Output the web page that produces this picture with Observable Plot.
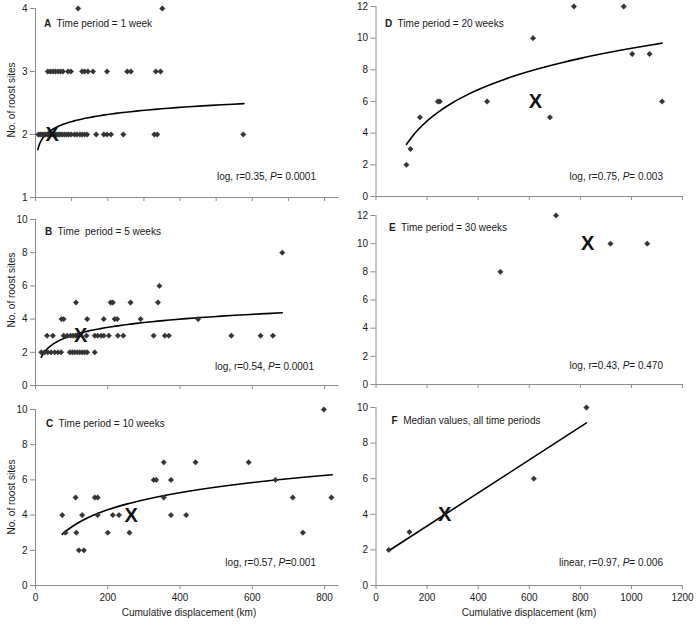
<!DOCTYPE html>
<html><head><meta charset="utf-8">
<script src="https://cdn.jsdelivr.net/npm/d3@7"></script>
<script src="https://cdn.jsdelivr.net/npm/@observablehq/plot@0.6"></script>
<style>
body{margin:0;background:#fff;}
#chart{position:relative;width:697px;height:626px;font-family:"Liberation Sans",Arial,sans-serif;font-size:10px;color:#1a1a1a;overflow:hidden;background:#fff}
#chart svg{position:absolute;overflow:visible}
.abs{position:absolute;white-space:pre;line-height:12px;}
</style></head><body><div id="chart"></div>
<script>
// ---- data: [cumulative displacement (km), number of roost sites] ----
const week1 = [
  [8,2],[13,2],[18,2],[23,2],[28,2],[33,2],[38,2],[43,2],[48,2],[53,2],[58,2],[63,2],[68,2],[74,2],[80,2],[86,2],
  [92,2],[99,2],[108,2],[115,2],[123,2],[129,2],[136,2],[143,2],[168,2],[189,2],[198,2],[209,2],[243,2],[329,2],[337,2],[575,2],
  [34,3],[41,3],[48,3],[55,3],[62,3],[69,3],[76,3],[90,3],[98,3],[129,3],[136,3],[145,3],[159,3],[198,3],[254,3],[264,3],[333,3],[346,3],
  [118,4],[351,4]
];
const week5 = [
  [16,2],[25,2],[34,2],[43,2],[53,2],[62,2],[71,2],[95,2],[102,2],[108,2],[115,2],[122,2],[129,2],[136,2],[143,2],[164,2],
  [32,3],[48,3],[78,3],[88,3],[97,3],[104,3],[111,3],[117,3],[141,3],[164,3],[172,3],[182,3],[189,3],[203,3],[228,3],[243,3],[327,3],[358,3],[369,3],[542,3],[623,3],[657,3],
  [72,4],[78,4],[143,4],[189,4],[219,4],[226,4],[291,4],[450,4],
  [112,5],[208,5],[214,5],[263,5],[339,5],
  [343,6],[683,8]
];
const week10 = [
  [74,4],[83,3],[111,5],[113,3],[120,2],[134,2],[129,4],[164,5],[172,5],[172,4],[200,3],[214,4],[231,4],[260,3],
  [327,6],[334,6],[355,7],[355,5],[375,6],[375,4],[417,4],[443,7],[590,7],[664,6],[712,5],[740,3],[798,10],[819,5]
];
const week20 = [
  [119,2],[135,3],[172,5],[242,6],[250,6],[435,6],[615,10],[681,5],[775,12],[970,12],[1003,9],[1071,9],[1120,6]
];
const week30 = [[487,8],[705,12],[918,10],[1062,10]];
const medians = [[50,2],[131,3],[269,4],[618,6],[824,10]];
// "X" marker per panel (A..F)
const xMarks = [[46,2],[125,3],[265,4],[624,6],[829,10],[269,4]];
// log trend lines y = a + b*ln(x), over [from, to]  (A..D)
const logFits = [
  {a:1.454, b:0.163, from:6.5, to:577},
  {a:-0.28, b:0.714, from:16, to:683},
  {a:-3.16, b:1.408, from:74, to:821},
  {a:-10.36, b:2.855, from:119, to:1120}
];
const titles = [
  ["A","  Time period = 1 week"],["B","  Time  period = 5 weeks"],["C","  Time period = 10 weeks"],
  ["D","  Time period = 20 weeks"],["E","  Time period = 30 weeks"],["F","  Median values, all time periods"]
];
const stats = [
  ["log, r=0.35, ","= 0.0001"],["log, r=0.54, ","= 0.0001"],["log, r=0.57, ","=0.001"],
  ["log, r=0.75, ","= 0.003"],["log, r=0.43, ","= 0.470"],["linear, r=0.97, ","= 0.006"]
];
const yLabel = "No. of roost sites";
const xLabel = "Cumulative displacement (km)";

const chart = document.getElementById("chart");
const FONT = '"Liberation Sans", Arial, sans-serif';
const AX = "#8c8c8c", TXT = "#1a1a1a";

function panel(o) {
  const marks = [
    Plot.ruleX([o.xDomain[0]], {stroke: AX}),
    Plot.ruleY([o.yDomain[0]], {stroke: AX}),
    Plot.axisY({ticks: o.yTicks, tickSize: 5, tickPadding: 3, stroke: AX, fill: TXT, fontSize: 10, label: null, tickFormat: d => String(d)}),
    Plot.axisX({ticks: o.xTicks, tickSize: 4, tickPadding: 4, stroke: AX, fill: TXT, fontSize: 10, label: null,
      tickFormat: o.xLabels ? (d => String(d)) : (() => "")})
  ];
  if (o.fit) {
    const f = o.fit;
    const pts = d3.range(0, 81).map(i => f.from * Math.pow(f.to / f.from, i / 80));
    marks.push(Plot.line(pts, {x: d => d, y: d => f.a + f.b * Math.log(d), stroke: "#000", strokeWidth: 1.6}));
  }
  if (o.linear) {
    marks.push(Plot.linearRegressionY(o.data, {x: d => d[0], y: d => d[1], stroke: "#000", strokeWidth: 1.6, ci: 0}));
  }
  marks.push(Plot.dot(o.dotData || o.data, {x: d => d[0], y: d => d[1], symbol: "diamond2", r: 2.4, fill: "#333", stroke: "#333", strokeWidth: 0.6}));
  marks.push(Plot.text([o.xmark], {x: d => d[0], y: d => d[1], text: () => "X", fontSize: 20, fontWeight: "bold", fill: "#111", fontFamily: FONT}));
  const svg = Plot.plot({
    width: o.width, height: o.height,
    marginTop: o.mt, marginBottom: o.mb, marginLeft: o.ml, marginRight: o.mr,
    x: {domain: o.xDomain}, y: {domain: o.yDomain},
    style: {fontFamily: FONT, fontSize: "10px", background: "transparent", color: TXT},
    marks
  });
  svg.style.left = o.left + "px";
  svg.style.top = o.top + "px";
  chart.appendChild(svg);
}

const L = {left: 0, width: 345, ml: 35, mr: 6.5, xDomain: [0, 840]};
const R = {left: 340, width: 357, ml: 35.5, mr: 15, xDomain: [0, 1200]};
const t100 = d3.range(0, 801, 100), t200L = d3.range(0, 801, 200), t200R = d3.range(0, 1201, 200);

panel({...L, top: 0, height: 205, mt: 8, mb: 8, yDomain: [1, 4], yTicks: [1,2,3,4], xTicks: t100, data: week1, fit: logFits[0], xmark: xMarks[0]});
panel({...L, top: 205, height: 185, mt: 14, mb: 5, yDomain: [0, 10], yTicks: d3.range(0, 11, 2), xTicks: t200L, data: week5, fit: logFits[1], xmark: xMarks[1]});
panel({...L, top: 390, height: 236, mt: 19, mb: 41, yDomain: [0, 10], yTicks: d3.range(0, 11, 2), xTicks: t200L, xLabels: true, data: week10, fit: logFits[2], xmark: xMarks[2]});
panel({...R, top: 0, height: 205, mt: 6, mb: 9, yDomain: [0, 12], yTicks: d3.range(0, 13, 2), xTicks: t200R, data: week20, fit: logFits[3], xmark: xMarks[3]});
panel({...R, top: 205, height: 185, mt: 10, mb: 6, yDomain: [0, 12], yTicks: d3.range(0, 13, 2), xTicks: t200R, data: week30, xmark: xMarks[4]});
panel({...R, top: 390, height: 236, mt: 17, mb: 41, yDomain: [0, 10], yTicks: d3.range(0, 11, 2), xTicks: t200R, xLabels: true, data: medians, dotData: medians.filter((d, i) => i !== 2), linear: true, xmark: xMarks[5]});

// ---- text overlays ----
function addDiv(html, css) {
  const d = document.createElement("div");
  d.className = "abs";
  d.innerHTML = html;
  Object.assign(d.style, css);
  chart.appendChild(d);
  return d;
}
const titlePos = [[44,24],[45,231.5],[46,424],[385,24],[389,228.3],[391.5,420.7]];
titles.forEach((t, i) => addDiv(`<b>${t[0]}</b>${t[1]}`, {left: titlePos[i][0] + "px", top: (titlePos[i][1] - 6) + "px"}));
const statPos = [[316,176.7],[314,367.3],[316,562.7],[663,176.7],[663,365.7],[663,563.3]];
stats.forEach((s, i) => addDiv(`${s[0]}<i>P</i>${s[1]}`, {right: (697 - statPos[i][0]) + "px", top: (statPos[i][1] - 6) + "px"}));
[100, 290, 497].forEach(cy => addDiv(yLabel, {left: "12px", top: cy + "px", transform: "translate(-50%,-50%) rotate(-90deg)"}));
[[189,613],[529,613]].forEach(p => addDiv(xLabel, {left: p[0] + "px", top: p[1] + "px", transform: "translate(-50%,-50%)"}));
</script></body></html>
